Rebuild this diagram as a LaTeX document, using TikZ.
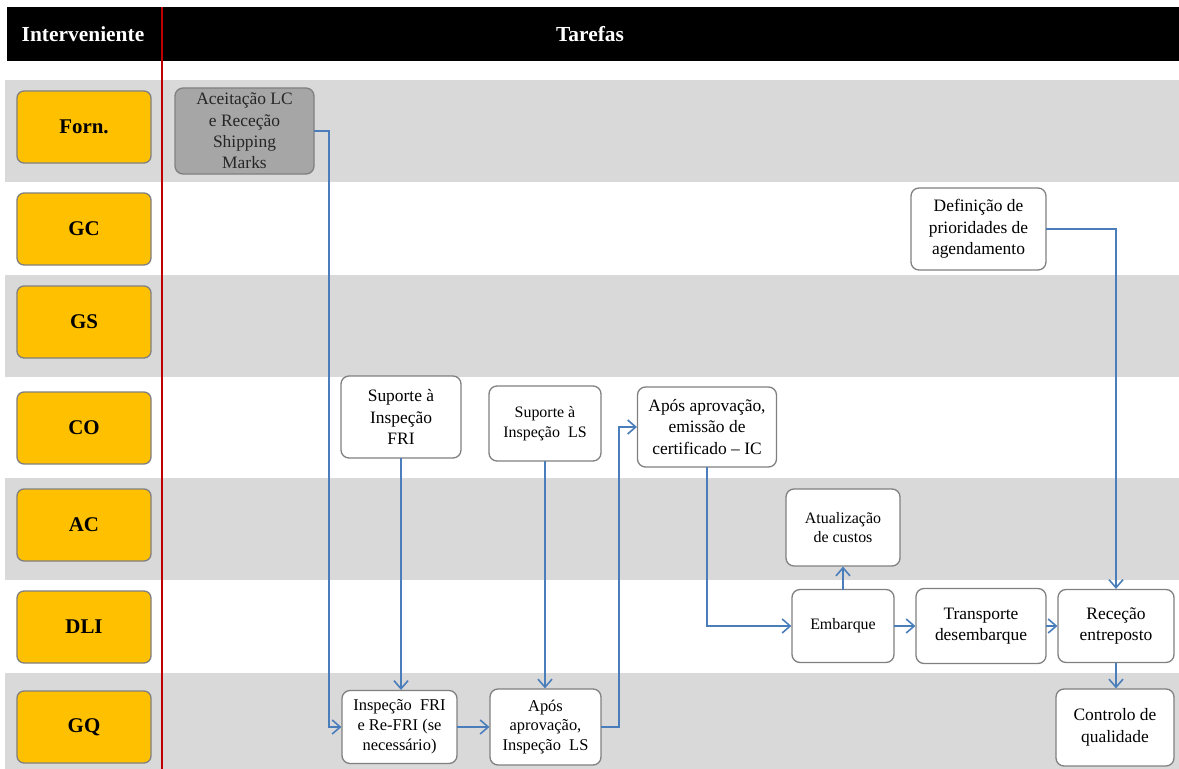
\documentclass[tikz,border=0pt]{standalone}
\usepackage{fontspec}
\setmainfont{Liberation Serif}
\usetikzlibrary{arrows.meta}
\definecolor{laneyellow}{HTML}{FFC000}
\definecolor{bandgray}{HTML}{D9D9D9}
\definecolor{boxline}{HTML}{808080}
\definecolor{flowblue}{HTML}{4A7EBB}
\definecolor{redrule}{HTML}{C00000}
\definecolor{supgray}{HTML}{A6A6A6}
\tikzset{
  lane/.style={draw=boxline, line width=1.3bp, fill=laneyellow, rounded corners=7bp,
    minimum width=134bp, minimum height=72bp, inner sep=0pt,
    font=\fontsize{21}{24}\selectfont\bfseries},
  task/.style={draw=boxline, line width=1.3bp, fill=white, rounded corners=8bp,
    inner sep=0pt, outer sep=0pt, align=center, font=\fontsize{17.5}{21.5}\selectfont},
  smalltask/.style={task, font=\fontsize{16}{19.5}\selectfont},
  flow/.style={draw=flowblue, line width=1.6bp, shorten >=0.6bp, -{Straight Barb[length=8bp,width=14bp,line width=1.6bp]}},
  headtext/.style={text=white, font=\fontsize{21.5}{24}\selectfont\bfseries}
}
\begin{document}
\begin{tikzpicture}[x=1bp,y=-1bp]
\useasboundingbox (0,0) rectangle (1179,769);
% header bar
\fill[black] (7,7) rectangle (1179,61);
\node[headtext] (hint) at (83,34) {Interveniente};
\node[headtext] (htar) at (590,34) {Tarefas};
% alternating swimlane bands
\fill[bandgray] (5,80) rectangle (1179,182);
\fill[bandgray] (5,275) rectangle (1179,377);
\fill[bandgray] (5,478) rectangle (1179,580);
\fill[bandgray] (5,673) rectangle (1179,769);
% separator between actor column and task area
\draw[redrule, line width=1.5bp] (162,7) -- (162,769);
% actors
\node[lane] (forn) at (84,127) {Forn.};
\node[lane] (gc)   at (84,229) {GC};
\node[lane] (gs)   at (84,322) {GS};
\node[lane] (co)   at (84,428) {CO};
\node[lane] (ac)   at (84,525) {AC};
\node[lane] (dli)  at (84,627) {DLI};
\node[lane] (gq)   at (84,727) {GQ};
% tasks
\node[task, fill=supgray, text=black!85, minimum width=139bp, minimum height=86bp] (acc) at (244.5,131)
  {Aceitação LC\\e Receção\\Shipping\\Marks};
\node[task, minimum width=135bp, minimum height=82bp] (def) at (978.5,229)
  {Definição de\\prioridades de\\agendamento};
\node[task, minimum width=120bp, minimum height=82bp] (supfri) at (401,417)
  {Suporte à\\Inspeção\\FRI};
\node[smalltask, minimum width=112bp, minimum height=75bp] (supls) at (545,423.5)
  {Suporte à\\Inspeção~~LS};
\node[task, minimum width=139bp, minimum height=80bp] (aposic) at (707,427)
  {Após aprovação,\\emissão de\\certificado -- IC};
\node[task, font=\fontsize{16.5}{20}\selectfont, minimum width=115bp, minimum height=73bp] (insp) at (399.5,727)
  {Inspeção~~FRI\\e Re-FRI (se\\necessário)};
\node[task, font=\fontsize{16.5}{20}\selectfont, minimum width=111bp, minimum height=76bp] (aposls) at (545.5,727)
  {Após\\aprovação,\\Inspeção~~LS};
\node[smalltask, minimum width=114bp, minimum height=77bp] (atual) at (843,527.5)
  {Atualização\\de custos};
\node[smalltask, minimum width=102bp, minimum height=73bp] (emb) at (843,626)
  {Embarque};
\node[task, minimum width=130bp, minimum height=75bp] (transp) at (981,626)
  {Transporte\\desembarque};
\node[task, minimum width=116bp, minimum height=73bp] (rec) at (1116,626)
  {Receção\\entreposto};
\node[task, minimum width=118bp, minimum height=77bp] (ctrl) at (1115,727.5)
  {Controlo de\\qualidade};
% flow connectors
\draw[flow] (acc.east) -- ++(15,0) |- (insp.west);
\draw[flow] (supfri.south) -- (supfri.south |- insp.north);
\draw[flow] (supls.south) -- (supls.south |- aposls.north);
\draw[flow] (insp.east) -- (aposls.west);
\draw[flow] (aposls.east) -- ++(18,0) |- (aposic.west);
\draw[flow] (aposic.south) |- (emb.west);
\draw[flow] (emb.north) -- (atual.south);
\draw[flow] (emb.east) -- (transp.west);
\draw[flow] (transp.east) -- (rec.west);
\draw[flow] (def.east) -| (rec.north);
\draw[flow] (rec.south) -- (rec.south |- ctrl.north);
\end{tikzpicture}
\end{document}
